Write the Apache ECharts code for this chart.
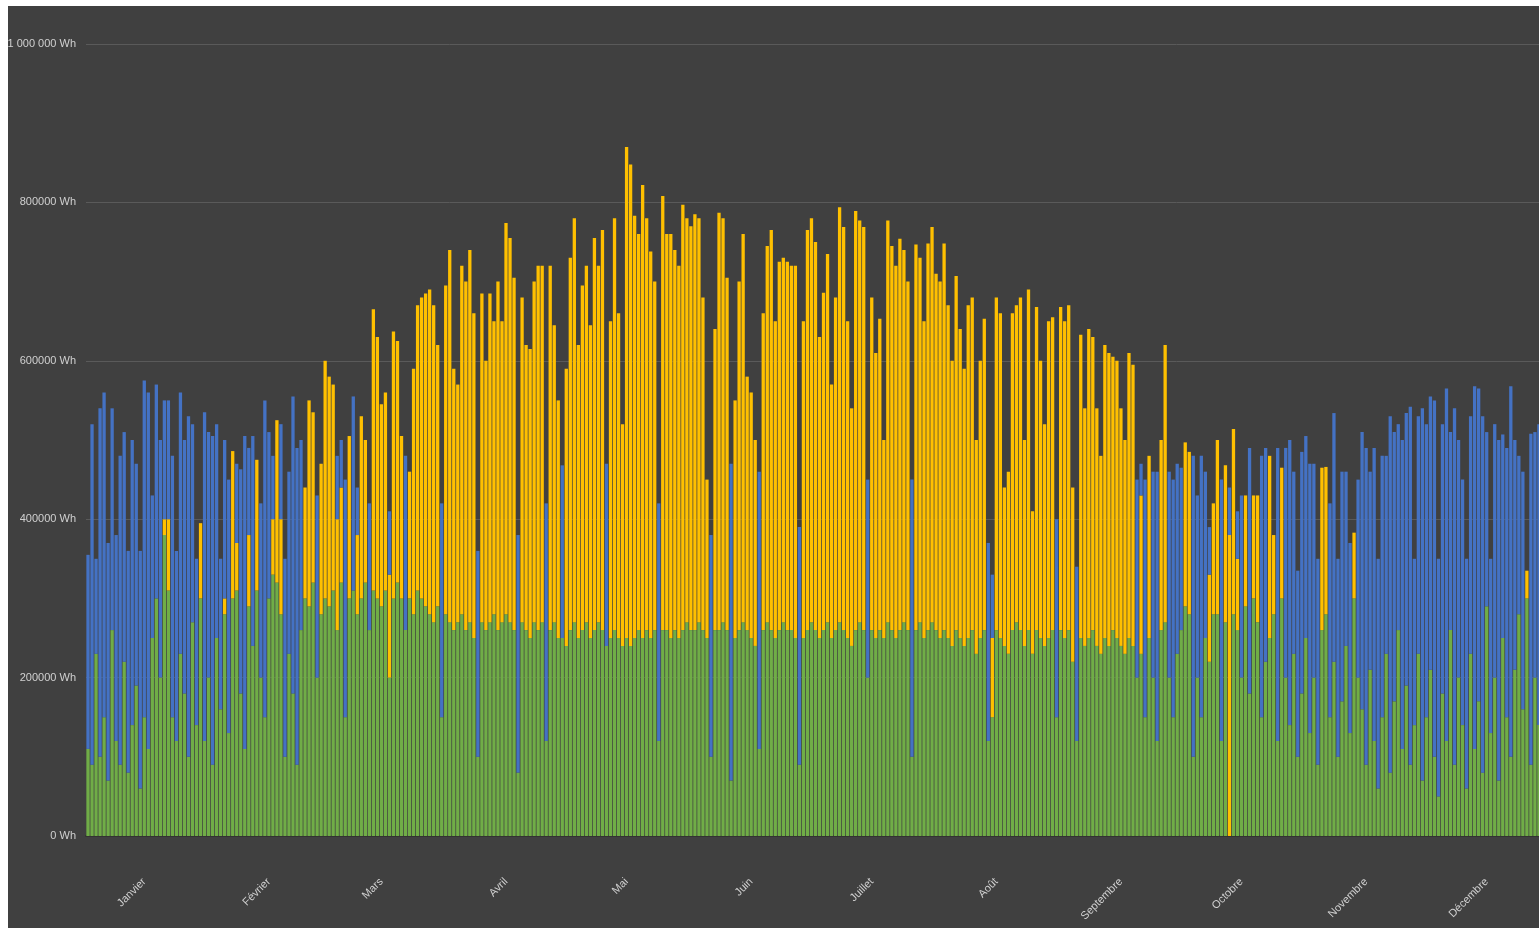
<!DOCTYPE html>
<html>
<head>
<meta charset="utf-8">
<script src="https://cdn.jsdelivr.net/npm/echarts@6/dist/echarts.min.js"></script>
<style>
  html, body { margin: 0; padding: 0; background: #ffffff; overflow: hidden; }
  #chart { position: absolute; left: 8px; top: 6px; width: 1531px; height: 922px; }
</style>
</head>
<body>
<div id="chart"></div>
<script>
// daily energy, kWh (axis shows Wh)
const months = ["Janvier", "Février", "Mars", "Avril", "Mai", "Juin", "Juillet", "Août", "Septembre", "Octobre", "Novembre", "Décembre"];
const monthDays = [31, 28, 31, 30, 31, 30, 31, 31, 30, 31, 30, 31];
const yTickLabels = ["0 Wh", "200000 Wh", "400000 Wh", "600000 Wh", "800000 Wh", "1 000 000 Wh"];

// autoconsommation (bas de pile)
const green = [
  110, 90, 230, 100, 150, 70, 260, 120, 90, 220, 80, 140, 190, 60, 150, 110, 250, 300, 200, 380, 310, 150, 120, 230, 180, 100, 270, 140, 300, 120, 200,
  90, 250, 160, 280, 130, 300, 310, 180, 110, 290, 240, 310, 200, 150, 300, 330, 320, 280, 100, 230, 180, 90, 260, 300, 290, 320, 200, 280,
  300, 290, 310, 260, 320, 150, 300, 310, 280, 300, 320, 260, 310, 300, 290, 310, 200, 300, 320, 300, 260, 300, 280, 310, 300, 290, 280, 270, 290, 150, 280,
  270, 260, 270, 280, 260, 270, 250, 100, 270, 260, 270, 280, 260, 270, 280, 270, 260, 80, 270, 260, 250, 270, 260, 270, 120, 260, 270, 250, 250, 240,
  260, 270, 250, 260, 270, 250, 260, 270, 260, 240, 250, 260, 250, 240, 250, 240, 250, 260, 250, 260, 250, 260, 120, 260, 260, 250, 260, 250, 260, 270, 260,
  260, 270, 260, 250, 100, 260, 260, 270, 260, 70, 250, 260, 270, 260, 250, 240, 110, 260, 270, 260, 250, 260, 270, 260, 260, 250, 90, 250, 260, 270,
  260, 250, 260, 270, 250, 260, 270, 260, 250, 240, 260, 270, 260, 200, 260, 250, 260, 250, 270, 260, 250, 260, 270, 260, 100, 260, 270, 250, 260, 270, 260,
  250, 260, 250, 240, 260, 250, 240, 250, 260, 230, 250, 260, 120, 150, 260, 250, 240, 230, 260, 270, 260, 240, 260, 230, 260, 250, 240, 250, 260, 150, 260,
  250, 260, 220, 120, 250, 240, 250, 260, 240, 230, 250, 240, 260, 250, 240, 230, 250, 240, 200, 230, 150, 250, 200, 120, 260, 270, 200, 150, 230, 260,
  290, 280, 100, 200, 150, 250, 220, 280, 280, 120, 270, 0, 280, 260, 200, 290, 180, 300, 270, 150, 220, 250, 280, 120, 300, 200, 140, 230, 100, 180, 250,
  130, 200, 90, 260, 280, 150, 220, 100, 170, 240, 130, 300, 200, 160, 90, 210, 120, 60, 150, 230, 80, 170, 260, 110, 190, 90, 140, 230, 70, 150,
  210, 100, 50, 180, 120, 260, 90, 200, 140, 60, 230, 110, 170, 80, 290, 130, 200, 70, 250, 150, 100, 210, 280, 160, 300, 90, 200, 140, 240, 100, 180
];

// injection (milieu de pile)
const yellow = [
  0, 0, 0, 0, 0, 0, 0, 0, 0, 0, 0, 0, 0, 0, 0, 0, 0, 0, 0, 20, 90, 0, 0, 0, 0, 0, 0, 0, 95, 0, 0,
  0, 0, 0, 20, 0, 186, 60, 0, 0, 90, 0, 165, 0, 0, 0, 70, 205, 120, 0, 0, 0, 0, 0, 140, 260, 215, 0, 190,
  300, 290, 260, 140, 120, 0, 205, 0, 100, 230, 180, 0, 355, 330, 255, 250, 130, 337, 305, 205, 0, 160, 310, 360, 380, 395, 410, 400, 330, 0, 415,
  470, 330, 300, 440, 440, 470, 410, 0, 415, 340, 415, 370, 440, 380, 494, 485, 445, 0, 410, 360, 365, 430, 460, 450, 0, 460, 375, 300, 0, 350,
  470, 510, 370, 435, 450, 395, 495, 450, 505, 0, 400, 520, 410, 280, 620, 608, 533, 500, 572, 520, 488, 440, 0, 548, 500, 510, 480, 470, 537, 510, 510,
  525, 510, 420, 200, 0, 380, 527, 510, 445, 0, 300, 440, 490, 320, 310, 260, 0, 400, 475, 505, 400, 465, 460, 465, 460, 470, 0, 400, 505, 510,
  490, 380, 426, 465, 320, 420, 524, 509, 400, 300, 529, 507, 509, 0, 420, 360, 393, 250, 507, 485, 470, 494, 470, 440, 0, 487, 460, 400, 488, 499, 450,
  450, 488, 420, 360, 447, 390, 350, 420, 420, 270, 350, 393, 0, 100, 420, 410, 200, 230, 400, 400, 420, 260, 430, 180, 408, 350, 280, 400, 395, 0, 408,
  400, 410, 220, 0, 383, 300, 390, 370, 300, 250, 370, 370, 345, 350, 300, 270, 360, 355, 0, 200, 0, 230, 0, 0, 240, 350, 0, 0, 0, 0,
  207, 205, 0, 0, 0, 0, 110, 140, 220, 0, 198, 380, 234, 90, 0, 140, 0, 130, 160, 0, 0, 230, 100, 0, 165, 0, 0, 0, 0, 0, 0,
  0, 0, 0, 205, 186, 0, 0, 0, 0, 0, 0, 83, 0, 0, 0, 0, 0, 0, 0, 0, 0, 0, 0, 0, 0, 0, 0, 0, 0, 0,
  0, 0, 0, 0, 0, 0, 0, 0, 0, 0, 0, 0, 0, 0, 0, 0, 0, 0, 0, 0, 0, 0, 0, 0, 35, 0, 0, 0, 0, 0, 0
];

// soutirage réseau (haut de pile)
const blue = [
  245, 430, 120, 440, 410, 300, 280, 260, 390, 290, 280, 360, 280, 300, 425, 450, 180, 270, 300, 150, 150, 330, 240, 330, 320, 430, 250, 210, 0, 415, 310,
  415, 270, 190, 200, 320, 0, 100, 283, 395, 110, 265, 0, 220, 400, 210, 80, 0, 120, 250, 230, 375, 400, 240, 0, 0, 0, 230, 0,
  0, 0, 0, 80, 60, 300, 0, 245, 60, 0, 0, 160, 0, 0, 0, 0, 80, 0, 0, 0, 220, 0, 0, 0, 0, 0, 0, 0, 0, 270, 0,
  0, 0, 0, 0, 0, 0, 0, 260, 0, 0, 0, 0, 0, 0, 0, 0, 0, 300, 0, 0, 0, 0, 0, 0, 300, 0, 0, 0, 218, 0,
  0, 0, 0, 0, 0, 0, 0, 0, 0, 230, 0, 0, 0, 0, 0, 0, 0, 0, 0, 0, 0, 0, 300, 0, 0, 0, 0, 0, 0, 0, 0,
  0, 0, 0, 0, 280, 0, 0, 0, 0, 400, 0, 0, 0, 0, 0, 0, 350, 0, 0, 0, 0, 0, 0, 0, 0, 0, 300, 0, 0, 0,
  0, 0, 0, 0, 0, 0, 0, 0, 0, 0, 0, 0, 0, 250, 0, 0, 0, 0, 0, 0, 0, 0, 0, 0, 350, 0, 0, 0, 0, 0, 0,
  0, 0, 0, 0, 0, 0, 0, 0, 0, 0, 0, 0, 250, 80, 0, 0, 0, 0, 0, 0, 0, 0, 0, 0, 0, 0, 0, 0, 0, 250, 0,
  0, 0, 0, 220, 0, 0, 0, 0, 0, 0, 0, 0, 0, 0, 0, 0, 0, 0, 250, 40, 300, 0, 260, 340, 0, 0, 260, 300, 240, 205,
  0, 0, 380, 230, 330, 210, 60, 0, 0, 330, 0, 60, 0, 60, 230, 0, 310, 0, 0, 330, 270, 0, 0, 370, 0, 290, 360, 230, 235, 305, 255,
  340, 270, 260, 0, 0, 270, 314, 250, 290, 220, 240, 0, 250, 350, 400, 250, 370, 290, 330, 250, 450, 340, 260, 390, 344, 452, 210, 300, 470, 370,
  345, 450, 300, 340, 445, 250, 450, 300, 310, 290, 300, 458, 395, 450, 220, 220, 320, 430, 257, 340, 468, 290, 200, 300, 0, 418, 310, 380, 280, 430, 330
];

// une étiquette au 15 de chaque mois
const days = [];
monthDays.forEach((n, m) => {
  for (let i = 0; i < n; i++) days.push(i === 14 ? months[m] : "");
});

const chart = echarts.init(document.getElementById("chart"));

const barStyle = { barCategoryGap: "18%", stack: "total", type: "bar" };

chart.setOption({
  backgroundColor: "#404040",
  animation: false,
  // the plot runs past the right edge of the picture (cropped screenshot)
  grid: { left: 78, top: 38, width: 1467, height: 792, containLabel: false, outerBoundsMode: "none" },
  xAxis: {
    type: "category",
    data: days,
    axisTick: { show: false },
    axisLine: { lineStyle: { color: "#333333", width: 2 } },
    axisLabel: {
      interval: 0,
      rotate: 45,
      margin: 44,
      color: "#d0d0d0",
      fontSize: 11,
      fontFamily: "Liberation Sans",
    },
  },
  yAxis: {
    type: "value",
    min: 0,
    max: 1000,
    interval: 200,
    axisLine: { show: false },
    axisTick: { show: false },
    splitLine: { lineStyle: { color: "#5a5a5a", width: 1 } },
    axisLabel: {
      margin: 10,
      color: "#d0d0d0",
      fontSize: 11,
      fontFamily: "Liberation Sans",
      formatter: (v) => yTickLabels[Math.round(v / 200)],
    },
  },
  series: [
    { ...barStyle, name: "Autoconsommation", data: green, itemStyle: { color: "#70AD47" } },
    { ...barStyle, name: "Injection", data: yellow, itemStyle: { color: "#FFC000" } },
    { ...barStyle, name: "Soutirage", data: blue, itemStyle: { color: "#4472C4" } },
  ],
});
</script>
</body>
</html>
